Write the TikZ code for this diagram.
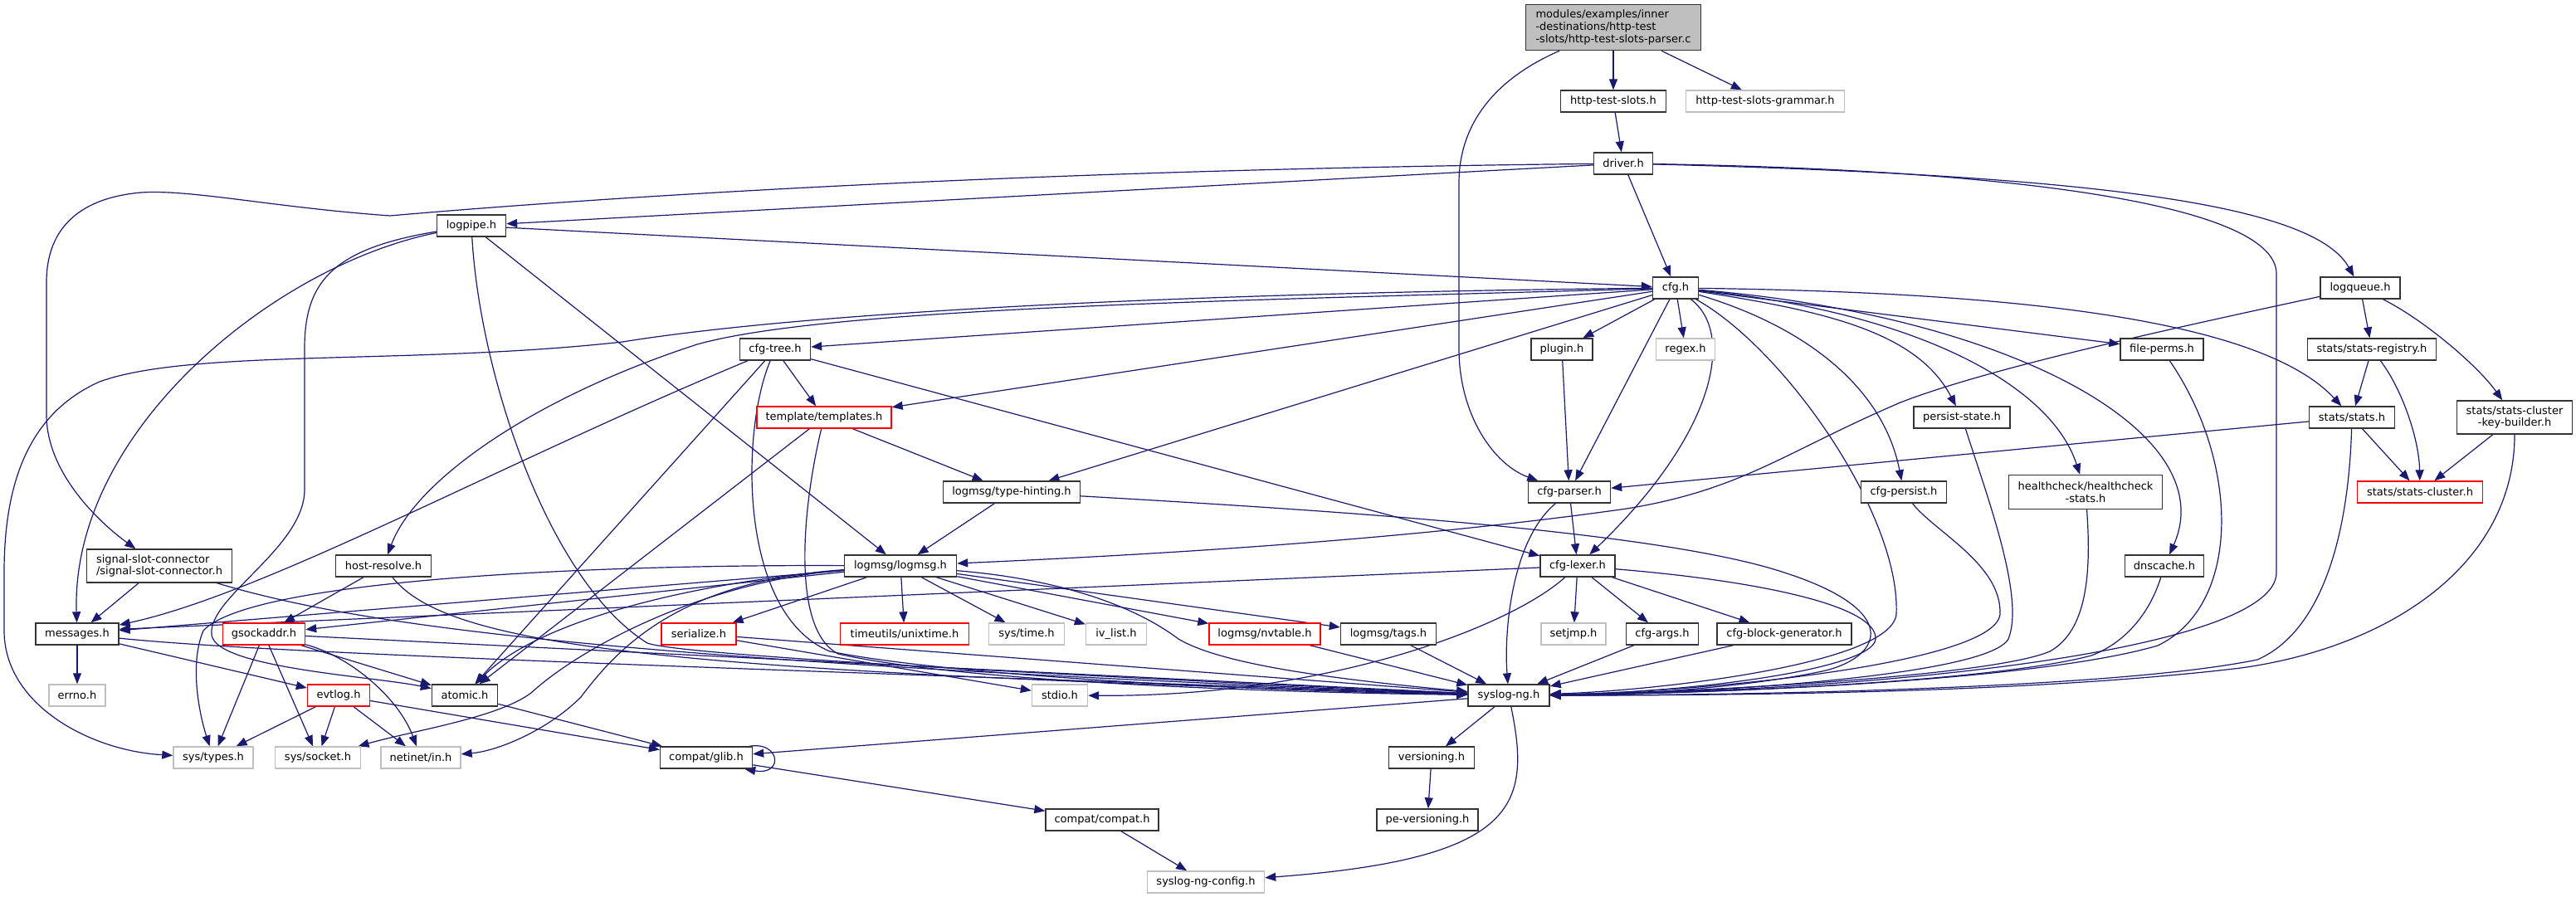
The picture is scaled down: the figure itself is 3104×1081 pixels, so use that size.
\documentclass[tikz,border=0pt]{standalone}
\usepackage{fontspec}
\setmainfont{DejaVu Sans}
\usetikzlibrary{arrows.meta,backgrounds}
\definecolor{edgec}{HTML}{191970}
\definecolor{nbord}{HTML}{333333}
\definecolor{gbord}{HTML}{BFBFBF}
\definecolor{rbord}{HTML}{FF0000}
\definecolor{mfill}{HTML}{BFBFBF}
\tikzset{
  nd/.style={draw=nbord, line width=1.4pt, fill=white, inner xsep=3pt, inner ysep=2pt,
    minimum height=26pt, font=\fontsize{13}{14.7}\selectfont, text=black},
  gnd/.style={nd, draw=gbord},
  rnd/.style={nd, draw=rbord},
  e/.style={draw=edgec, line width=1.2pt, -{Triangle[length=13pt,width=10pt]}},
}
\begin{document}
\begin{tikzpicture}[x=1pt,y=-1pt]
\useasboundingbox (0,0) rectangle (3104,1081);
% nodes
\node[nd, fill=mfill, minimum width=211pt, minimum height=55pt, align=left] (main) at (1944,33) {modules/examples/inner\\-destinations/http-test\\-slots/http-test-slots-parser.c};
\node[nd, minimum width=127pt] (hts) at (1944,122) {http-test-slots.h};
\node[gnd, minimum width=191pt] (htsg) at (2127,122) {http-test-slots-grammar.h};
\node[nd, minimum width=71pt] (drv) at (1956,197) {driver.h};
\node[nd, minimum width=83pt] (lp) at (568,272) {logpipe.h};
\node[nd, minimum width=55pt] (cfg) at (2019,347) {cfg.h};
\node[nd, minimum width=96pt] (lq) at (2844,347) {logqueue.h};
\node[nd, minimum width=85pt] (ctree) at (934,421) {cfg-tree.h};
\node[nd, minimum width=74pt] (plugin) at (1882,421) {plugin.h};
\node[gnd, minimum width=71pt] (regex) at (2031,421) {regex.h};
\node[nd, minimum width=100pt] (fperm) at (2605,421) {file-perms.h};
\node[nd, minimum width=155pt] (sreg) at (2858,421) {stats/stats-registry.h};
\node[rnd, minimum width=162pt] (tmpl) at (993,503) {template/templates.h};
\node[nd, minimum width=116pt] (pstate) at (2364,503) {persist-state.h};
\node[nd, minimum width=103pt] (stats) at (2834,503) {stats/stats.h};
\node[nd, minimum width=139pt, minimum height=40pt, align=center] (skb) at (3030,503) {stats/stats-cluster\\-key-builder.h};
\node[nd, minimum width=165pt] (thint) at (1219,593) {logmsg/type-hinting.h};
\node[nd, minimum width=99pt] (cparser) at (1891,593) {cfg-parser.h};
\node[nd, minimum width=103pt] (cpersist) at (2294,593) {cfg-persist.h};
\node[nd, minimum width=185pt, minimum height=41pt, align=center] (hc) at (2513,593) {healthcheck/healthcheck\\-stats.h};
\node[rnd, minimum width=151pt] (scl) at (2916,593) {stats/stats-cluster.h};
\node[nd, minimum width=175pt, minimum height=40pt, align=left] (ssc) at (192,682) {signal-slot-connector\\/signal-slot-connector.h};
\node[nd, minimum width=115pt] (hres) at (462,682) {host-resolve.h};
\node[nd, minimum width=135pt] (lmsg) at (1085,682) {logmsg/logmsg.h};
\node[nd, minimum width=90pt] (clex) at (1901,682) {cfg-lexer.h};
\node[nd, minimum width=95pt] (dns) at (2608,682) {dnscache.h};
\node[nd, minimum width=100pt] (msgs) at (93,764) {messages.h};
\node[rnd, minimum width=99pt] (gsock) at (318,764) {gsockaddr.h};
\node[rnd, minimum width=90pt] (ser) at (842,764) {serialize.h};
\node[rnd, minimum width=155pt] (unix) at (1090,764) {timeutils/unixtime.h};
\node[gnd, minimum width=91pt] (stime) at (1237,764) {sys/time.h};
\node[gnd, minimum width=73pt] (ivl) at (1345,764) {iv\_list.h};
\node[rnd, minimum width=134pt] (nvt) at (1524,764) {logmsg/nvtable.h};
\node[nd, minimum width=115pt] (tags) at (1673,764) {logmsg/tags.h};
\node[gnd, minimum width=78pt] (setjmp) at (1896,764) {setjmp.h};
\node[nd, minimum width=87pt] (cargs) at (2003,764) {cfg-args.h};
\node[nd, minimum width=162pt] (cbg) at (2150,764) {cfg-block-generator.h};
\node[gnd, minimum width=68pt] (errno) at (93,838) {errno.h};
\node[rnd, minimum width=75pt] (evt) at (408,838) {evtlog.h};
\node[nd, minimum width=79pt] (atomic) at (560,838) {atomic.h};
\node[gnd, minimum width=67pt] (stdio) at (1277,838) {stdio.h};
\node[nd, minimum width=98pt] (sng) at (1818,838) {syslog-ng.h};
\node[gnd, minimum width=96pt] (stypes) at (257,913) {sys/types.h};
\node[gnd, minimum width=103pt] (ssock) at (383,913) {sys/socket.h};
\node[gnd, minimum width=96pt] (netin) at (507,913) {netinet/in.h};
\node[nd, minimum width=111pt] (glib) at (851,913) {compat/glib.h};
\node[nd, minimum width=103pt] (ver) at (1725,913) {versioning.h};
\node[nd, minimum width=136pt] (cc) at (1328,988) {compat/compat.h};
\node[nd, minimum width=122pt] (pever) at (1720,988) {pe-versioning.h};
\node[gnd, minimum width=141pt] (sngc) at (1453,1063) {syslog-ng-config.h};
% edges
\begin{scope}[on background layer]
\fill[white] (0,0) rectangle (3104,1081);
\draw[e] (main) -- (hts);
\draw[e] (main) -- (htsg);
\draw[e] (main) .. controls (1790,100) and (1758,160) .. (1758,220) -- (1758,420) .. controls (1758,500) and (1800,560) .. (cparser);
\draw[e] (hts) -- (drv);
\draw[e] (drv) -- (lp);
\draw[e] (drv) -- (cfg);
\draw[e] (drv) .. controls (2550,212) and (2790,250) .. (lq);
\draw[e] (drv) .. controls (2450,205) and (2743,250) .. (2743,330) -- (2743,690) .. controls (2743,780) and (2300,832) .. (sng);
\draw[e] (drv) .. controls (1200,205) and (700,240) .. (470,260) .. controls (330,250) and (230,228) .. (170,232) .. controls (80,240) and (56,290) .. (56,340) -- (56,500) .. controls (56,570) and (120,630) .. (ssc);
\draw[e] (lp) -- (cfg);
\draw[e] (lp) .. controls (330,320) and (85,520) .. (msgs);
\draw[e] (lp) .. controls (400,300) and (367,340) .. (367,420) -- (367,590) .. controls (367,660) and (250,720) .. (255,765) .. controls (260,805) and (450,815) .. (atomic);
\draw[e] (lp) .. controls (578,450) and (660,700) .. (780,775) .. controls (820,790) and (1300,815) .. (sng);
\draw[e] (lp) -- (lmsg);
% cfg.h
\draw[e] (cfg) -- (ctree);
\draw[e] (cfg) -- (tmpl);
\draw[e] (cfg) -- (thint);
\draw[e] (cfg) .. controls (1500,362) and (1000,370) .. (840,415) .. controls (640,480) and (500,580) .. (hres);
\draw[e] (cfg) .. controls (1500,352) and (1000,372) .. (750,412) .. controls (500,440) and (230,420) .. (120,460) .. controls (30,500) and (5,590) .. (5,690) -- (5,760) .. controls (5,850) and (110,905) .. (stypes);
\draw[e] (cfg) -- (plugin);
\draw[e] (cfg) -- (regex);
\draw[e] (cfg) -- (cparser);
\draw[e] (cfg) .. controls (2090,400) and (2070,520) .. (clex);
\draw[e] (cfg) .. controls (2150,420) and (2290,620) .. (2285,740) .. controls (2280,800) and (2000,832) .. (sng);
\draw[e] (cfg) -- (fperm);
\draw[e] (cfg) .. controls (2200,375) and (2310,400) .. (pstate);
\draw[e] (cfg) .. controls (2180,395) and (2270,470) .. (cpersist);
\draw[e] (cfg) .. controls (2300,375) and (2470,460) .. (hc);
\draw[e] (cfg) .. controls (2420,380) and (2680,520) .. (dns);
\draw[e] (cfg) .. controls (2400,352) and (2720,380) .. (stats);
% logqueue and stats
\draw[e] (lq) .. controls (2550,410) and (2380,450) .. (2290,485) .. controls (2150,545) and (2100,590) .. (1960,613) .. controls (1700,650) and (1400,668) .. (lmsg);
\draw[e] (lq) -- (sreg);
\draw[e] (lq) .. controls (2920,385) and (2985,440) .. (skb);
\draw[e] (sreg) -- (stats);
\draw[e] (sreg) .. controls (2895,470) and (2915,530) .. (scl);
\draw[e] (stats) -- (scl);
\draw[e] (stats) -- (cparser);
\draw[e] (stats) .. controls (2830,640) and (2800,760) .. (2720,795) .. controls (2550,830) and (2100,838) .. (sng);
\draw[e] (skb) -- (scl);
\draw[e] (skb) .. controls (3030,680) and (2880,780) .. (2700,805) .. controls (2450,835) and (2100,838) .. (sng);
% cfg-tree, templates, type-hinting
\draw[e] (ctree) -- (tmpl);
\draw[e] (ctree) .. controls (600,560) and (320,715) .. (msgs);
\draw[e] (ctree) -- (atomic);
\draw[e] (ctree) -- (clex);
\draw[e] (ctree) .. controls (892,520) and (890,740) .. (1000,785) .. controls (1150,815) and (1500,832) .. (sng);
\draw[e] (tmpl) -- (thint);
\draw[e] (tmpl) -- (atomic);
\draw[e] (tmpl) .. controls (965,620) and (955,760) .. (1010,788) .. controls (1150,820) and (1500,834) .. (sng);
\draw[e] (thint) -- (lmsg);
\draw[e] (thint) .. controls (1600,615) and (2000,640) .. (2150,690) .. controls (2290,735) and (2270,790) .. (2200,808) .. controls (2100,830) and (1950,838) .. (sng);
% parser / lexer
\draw[e] (plugin) -- (cparser);
\draw[e] (cparser) -- (clex);
\draw[e] (cparser) .. controls (1822,650) and (1812,760) .. (sng);
\draw[e] (fperm) .. controls (2700,560) and (2700,730) .. (2600,778) .. controls (2450,822) and (2050,836) .. (sng);
\draw[e] (pstate) .. controls (2395,600) and (2440,720) .. (2420,770) .. controls (2395,815) and (2050,836) .. (sng);
\draw[e] (cpersist) .. controls (2330,640) and (2412,680) .. (2410,740) .. controls (2405,800) and (2050,834) .. (sng);
\draw[e] (hc) .. controls (2520,690) and (2515,760) .. (2470,785) .. controls (2400,815) and (2050,834) .. (sng);
\draw[e] (dns) .. controls (2590,740) and (2560,775) .. (2520,790) .. controls (2400,822) and (2050,836) .. (sng);
% signal-slot, host-resolve
\draw[e] (ssc) -- (msgs);
\draw[e] (ssc) .. controls (420,750) and (700,796) .. (sng);
\draw[e] (hres) -- (gsock);
\draw[e] (hres) .. controls (540,780) and (800,810) .. (sng);
% logmsg
\draw[e] (lmsg) -- (msgs);
\draw[e] (lmsg) -- (gsock);
\draw[e] (lmsg) -- (ser);
\draw[e] (lmsg) -- (unix);
\draw[e] (lmsg) -- (stime);
\draw[e] (lmsg) -- (ivl);
\draw[e] (lmsg) -- (nvt);
\draw[e] (lmsg) -- (tags);
\draw[e] (lmsg) .. controls (1300,700) and (1380,740) .. (1420,770) .. controls (1470,800) and (1600,818) .. (sng);
\draw[e] (lmsg) .. controls (850,700) and (650,745) .. (atomic);
\draw[e] (lmsg) .. controls (700,680) and (300,700) .. (245,760) .. controls (228,800) and (240,860) .. (stypes);
\draw[e] (lmsg) .. controls (850,700) and (700,780) .. (640,835) .. controls (600,865) and (500,880) .. (ssock);
\draw[e] (lmsg) .. controls (820,700) and (745,780) .. (700,840) .. controls (660,880) and (600,905) .. (netin);
% cfg-lexer
\draw[e] (clex) -- ([yshift=-8pt]msgs.north east);
\draw[e] (clex) .. controls (1820,755) and (1600,840) .. (stdio);
\draw[e] (clex) -- (setjmp);
\draw[e] (clex) -- (cargs);
\draw[e] (clex) -- (cbg);
\draw[e] (clex) .. controls (2120,700) and (2262,730) .. (2260,770) .. controls (2258,805) and (2050,834) .. (sng);
% lower rows
\draw[e] (msgs) -- (errno);
\draw[e] (msgs) -- (evt);
\draw[e] (msgs) .. controls (300,785) and (700,800) .. (sng);
\draw[e] (gsock) -- (stypes);
\draw[e] (gsock) -- (ssock);
\draw[e] (gsock) .. controls (420,790) and (480,840) .. (netin);
\draw[e] (gsock) -- (atomic);
\draw[e] (gsock) -- (sng);
\draw[e] (ser) -- (stdio);
\draw[e] (ser) -- (sng);
\draw[e] (nvt) -- (sng);
\draw[e] (tags) -- (sng);
\draw[e] (cargs) -- (sng);
\draw[e] (cbg) -- (sng);
\draw[e] (evt) -- (stypes);
\draw[e] (evt) -- (ssock);
\draw[e] (evt) -- (netin);
\draw[e] (evt) -- (glib);
\draw[e] (atomic) -- (glib);
\draw[e] ([xshift=-4pt]glib.north east) .. controls (940,893) and (945,935) .. ([xshift=-10pt]glib.south east);
\draw[e] (glib) -- (cc);
\draw[e] (cc) -- (sngc);
\draw[e] (sng) -- (glib);
\draw[e] (sng) -- (ver);
\draw[e] (sng) .. controls (1845,970) and (1830,1035) .. (sngc);
\draw[e] (ver) -- (pever);
\end{scope}
\end{tikzpicture}
\end{document}
